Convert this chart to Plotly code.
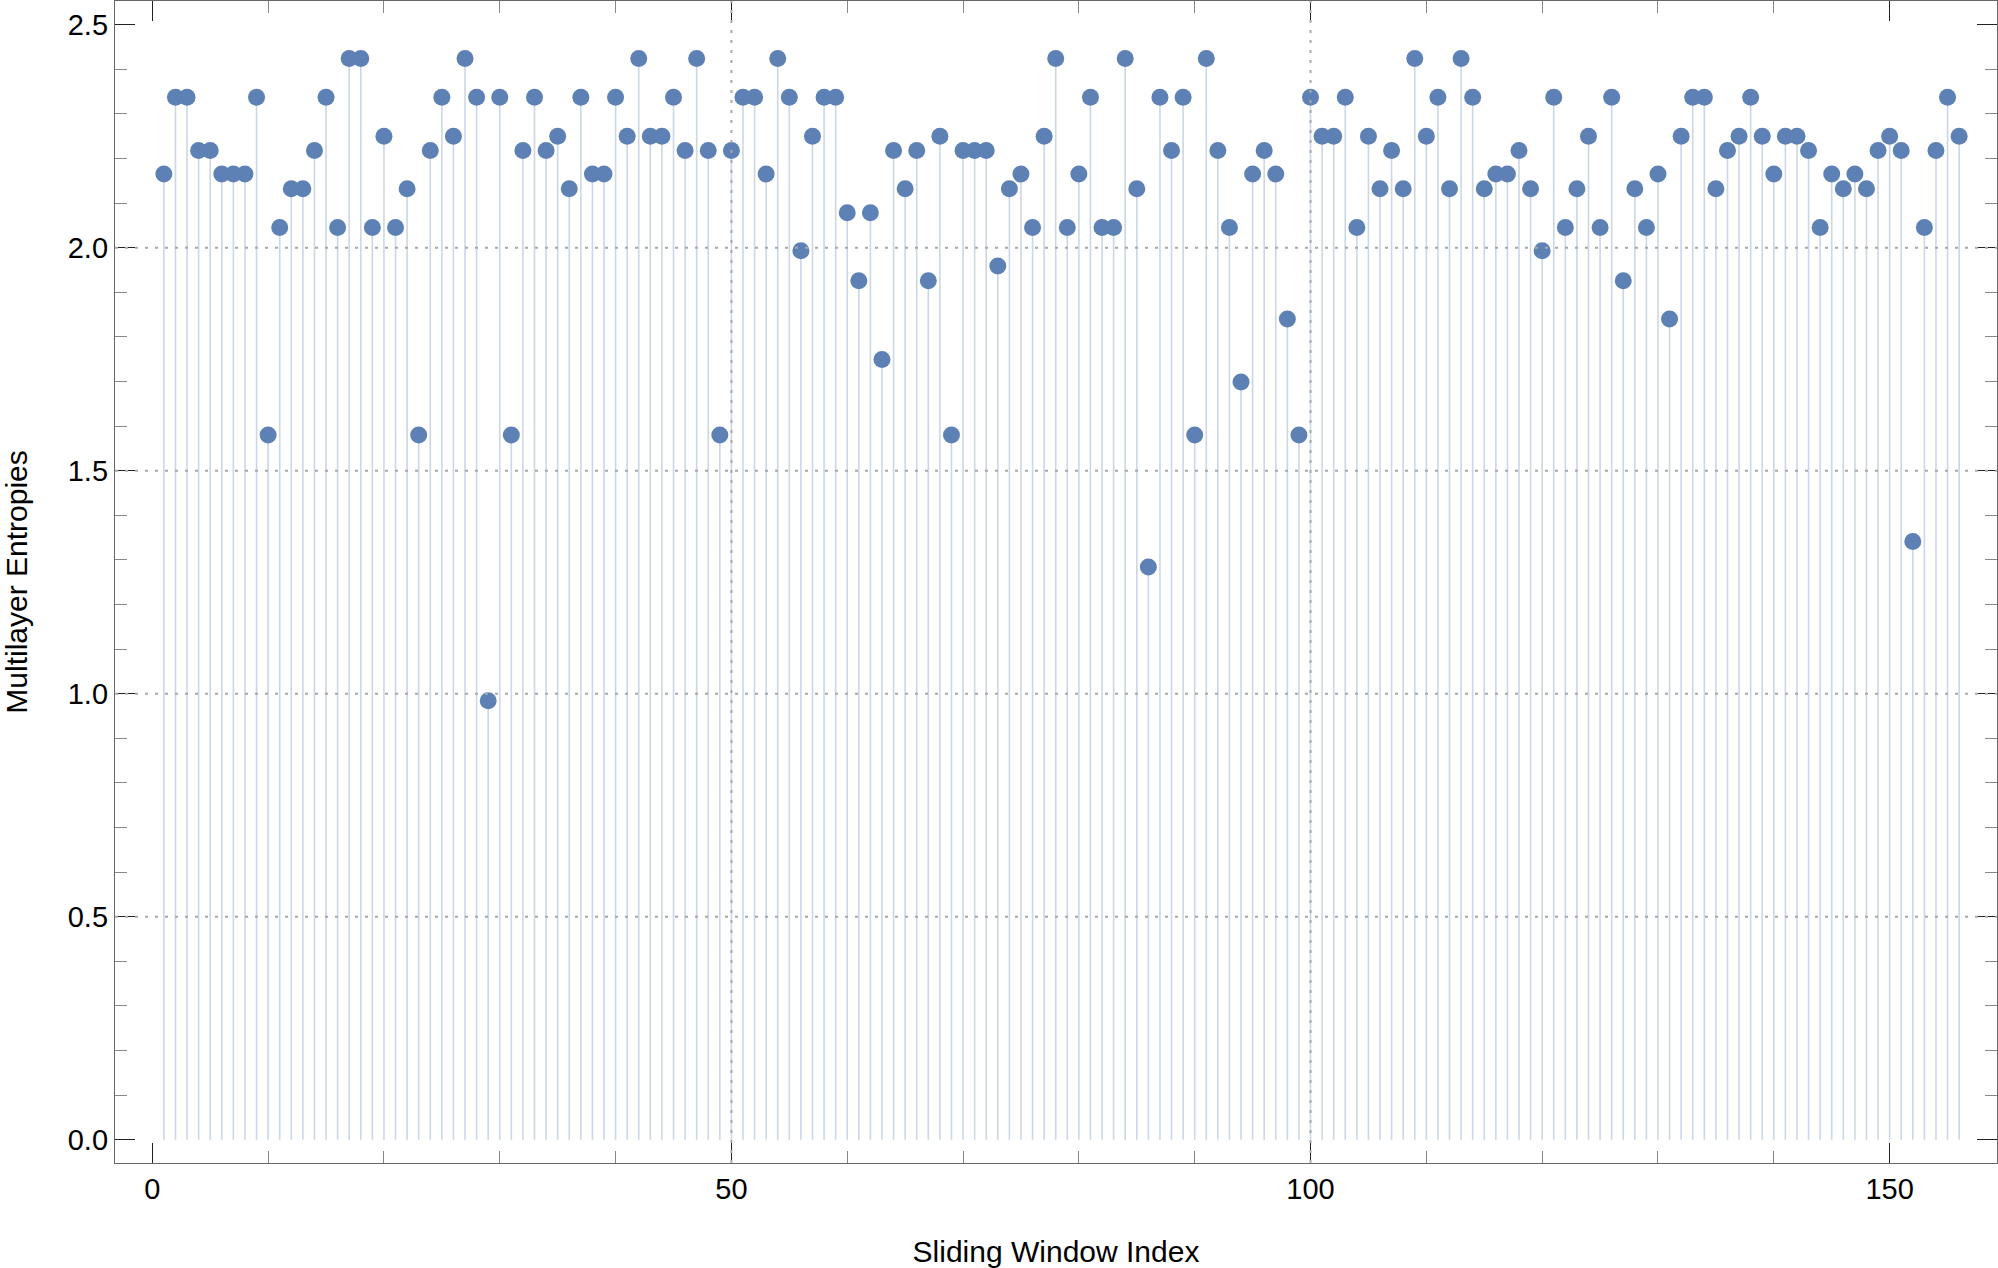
import plotly.graph_objects as go

# ---- data ----
window_index = list(range(1, 157))
entropies = [
    2.165, 2.337, 2.337, 2.218, 2.218, 2.165, 2.165, 2.165, 2.337, 1.580,
    2.045, 2.132, 2.132, 2.218, 2.337, 2.045, 2.424, 2.424, 2.045, 2.250,
    2.045, 2.132, 1.580, 2.218, 2.337, 2.250, 2.424, 2.337, 0.984, 2.337,
    1.580, 2.218, 2.337, 2.218, 2.250, 2.132, 2.337, 2.165, 2.165, 2.337,
    2.250, 2.424, 2.250, 2.250, 2.337, 2.218, 2.424, 2.218, 1.580, 2.218,
    2.337, 2.337, 2.165, 2.424, 2.337, 1.993, 2.250, 2.337, 2.337, 2.078,
    1.926, 2.078, 1.749, 2.218, 2.132, 2.218, 1.926, 2.250, 1.580, 2.218,
    2.218, 2.218, 1.959, 2.132, 2.165, 2.045, 2.250, 2.424, 2.045, 2.165,
    2.337, 2.045, 2.045, 2.424, 2.132, 1.284, 2.337, 2.218, 2.337, 1.580,
    2.424, 2.218, 2.045, 1.699, 2.165, 2.218, 2.165, 1.840, 1.580, 2.337,
    2.250, 2.250, 2.337, 2.045, 2.250, 2.132, 2.218, 2.132, 2.424, 2.250,
    2.337, 2.132, 2.424, 2.337, 2.132, 2.165, 2.165, 2.218, 2.132, 1.993,
    2.337, 2.045, 2.132, 2.250, 2.045, 2.337, 1.926, 2.132, 2.045, 2.165,
    1.840, 2.250, 2.337, 2.337, 2.132, 2.218, 2.250, 2.337, 2.250, 2.165,
    2.250, 2.250, 2.218, 2.045, 2.165, 2.132, 2.165, 2.132, 2.218, 2.250,
    2.218, 1.341, 2.045, 2.218, 2.337, 2.250,
]
x_ticks = [0, 50, 100, 150]
y_ticks = [0.0, 0.5, 1.0, 1.5, 2.0, 2.5]
y_tick_labels = ["0.0", "0.5", "1.0", "1.5", "2.0", "2.5"]
grid_x = [50, 100]
grid_y = [0.5, 1.0, 1.5, 2.0]

MARKER = "#5E81B5"
STEM = "rgba(94,129,181,0.32)"
FONT = "Liberation Sans, Arial, sans-serif"

# stems built from the data
stem_x, stem_y = [], []
for xi, yi in zip(window_index, entropies):
    stem_x += [xi, xi, None]
    stem_y += [0, yi, None]

fig = go.Figure()
fig.add_trace(go.Scatter(x=stem_x, y=stem_y, mode="lines",
                         line=dict(color=STEM, width=1.6),
                         hoverinfo="skip", showlegend=False))
fig.add_trace(go.Scatter(x=window_index, y=entropies, mode="markers",
                         marker=dict(color=MARKER, size=17, line=dict(width=0)),
                         showlegend=False))

for gx in grid_x:
    fig.add_shape(type="line", xref="x", yref="paper", x0=gx, x1=gx, y0=0, y1=1,
                  line=dict(color="#a8a8a8", width=2, dash="3px,7px"), layer="above")
for gy in grid_y:
    fig.add_shape(type="line", xref="paper", yref="y", x0=0, x1=1, y0=gy, y1=gy,
                  line=dict(color="#a8a8a8", width=2, dash="3px,7px"), layer="above")

axis_common = dict(
    showline=True, linecolor="#666666", linewidth=1.3, mirror="allticks",
    ticks="inside", ticklen=20, tickwidth=1.3, tickcolor="#222222",
    showgrid=False, zeroline=False, automargin=False,
    tickfont=dict(family=FONT, size=29, color="black"),
)

fig.update_layout(
    width=1998, height=1268,
    margin=dict(l=115, r=1, t=1, b=105),
    paper_bgcolor="white", plot_bgcolor="white",
    font=dict(family=FONT, size=29, color="black"),
    xaxis=dict(
        range=[-3.22, 159.27],
        tickmode="array", tickvals=x_ticks, ticktext=[str(v) for v in x_ticks],
        minor=dict(dtick=10, tick0=0, ticks="inside", ticklen=12, tickwidth=1.3,
                   tickcolor="#888888", showgrid=False),
        title=dict(text="Sliding Window Index", font=dict(family=FONT, size=30), standoff=37),
        **axis_common,
    ),
    yaxis=dict(
        range=[-0.0522, 2.553],
        tickmode="array", tickvals=y_ticks, ticktext=y_tick_labels,
        minor=dict(dtick=0.1, tick0=0, ticks="inside", ticklen=12, tickwidth=1.3,
                   tickcolor="#888888", showgrid=False),
        title=dict(text="Multilayer Entropies", font=dict(family=FONT, size=30), standoff=36),
        **axis_common,
    ),
)

fig.write_html("out.html", config={"displayModeBar": False},
               post_script="document.body.style.margin='0';document.body.style.overflow='hidden';")
